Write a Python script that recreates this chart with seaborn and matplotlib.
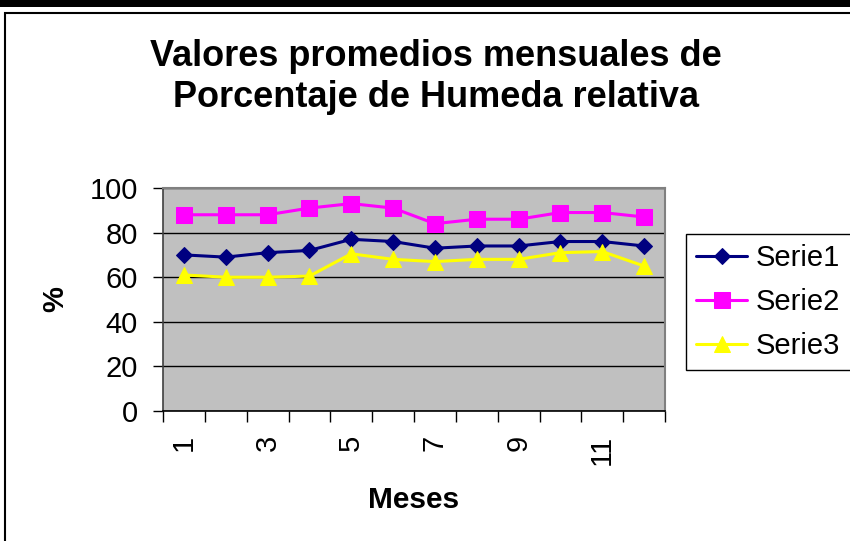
import pandas as pd
import matplotlib
matplotlib.use("Agg")
import matplotlib.pyplot as plt
import seaborn as sns
from matplotlib.patches import Rectangle

# Monthly relative humidity averages
meses = list(range(1, 13))
serie1 = [70, 69, 71, 72, 77, 76, 73, 74, 74, 76, 76, 74]
serie2 = [88, 88, 88, 91, 93, 91, 84, 86, 86, 89, 89, 87]
serie3 = [61, 60, 60, 60.5, 70.5, 68, 67, 68, 68, 71, 71.5, 65]
series_names = ["Serie1", "Serie2", "Serie3"]
tick_labels = ["1", "3", "5", "7", "9", "11"]

colors = {"Serie1": "#000080", "Serie2": "#FF00FF", "Serie3": "#FFFF00"}
markers = {"Serie1": "D", "Serie2": "s", "Serie3": "^"}
msizes = {"Serie1": 8, "Serie2": 11, "Serie3": 11}

df = pd.DataFrame({
    "mes": meses * 3,
    "valor": serie1 + serie2 + serie3,
    "serie": [s for s in series_names for _ in meses],
})
df["pos"] = df["mes"] - 1

sns.set_style("white")
plt.rcParams["font.family"] = ["Liberation Sans", "DejaVu Sans"]
plt.rcParams["text.color"] = "black"
plt.rcParams["axes.labelcolor"] = "black"
plt.rcParams["xtick.color"] = "black"
plt.rcParams["ytick.color"] = "black"

fig = plt.figure(figsize=(8.5, 5.41), dpi=100)
ax = fig.add_axes([163 / 850, 1 - 411 / 541, 502 / 850, 223 / 541])
ax.set_facecolor("#C0C0C0")

for name in series_names:
    sns.lineplot(data=df[df["serie"] == name], x="pos", y="valor", ax=ax,
                 color=colors[name], marker=markers[name], markersize=msizes[name],
                 markeredgecolor=colors[name], markerfacecolor=colors[name],
                 linewidth=2.2, label=name, zorder=3)

ax.set_xlim(-0.5, 11.5)
ax.set_ylim(0, 100)
ax.set_yticks([0, 20, 40, 60, 80, 100])
ax.yaxis.grid(True, color="black", linewidth=1)
ax.set_axisbelow(True)
ax.tick_params(axis="y", which="major", direction="out", length=7, width=1,
               labelsize=21, pad=11, left=True)

# category labels at centres, tick marks at the boundaries
ax.set_xticks([0, 2, 4, 6, 8, 10])
ax.set_xticklabels(tick_labels, rotation=90)
ax.set_xticks([i - 0.5 for i in range(13)], minor=True)
ax.tick_params(axis="x", which="major", length=0, labelsize=21, pad=17)
ax.tick_params(axis="x", which="minor", direction="out", length=8, width=1, bottom=True)

for side in ["top", "right"]:
    ax.spines[side].set_color("#808080")
    ax.spines[side].set_linewidth(1.5)
ax.spines["left"].set_color("#404040")
ax.spines["bottom"].set_color("black")
ax.spines["left"].set_linewidth(1.2)
ax.spines["bottom"].set_linewidth(1.2)

ax.set_xlabel("Meses", fontsize=21.5, fontweight="bold")
ax.xaxis.set_label_coords(0.5, (411 - 500) / 223)
ax.xaxis.label.set_va("center")
ax.set_ylabel("%", fontsize=21, fontweight="bold")
ax.yaxis.set_label_coords((55 - 163) / 502, 0.5)
ax.yaxis.label.set_va("center")

fig.text(436 / 850, 1 - 77 / 541,
         "Valores promedios mensuales de\nPorcentaje de Humeda relativa",
         ha="center", va="center", fontsize=26, fontweight="bold", linespacing=1.2)

leg = ax.legend(loc="upper left", bbox_to_anchor=(686 / 850, 1 - 234 / 541),
                bbox_transform=fig.transFigure, borderaxespad=0, fontsize=21,
                handlelength=1.75, labelspacing=0.55, handletextpad=0.3,
                borderpad=0.35, fancybox=False, framealpha=1)
leg.get_frame().set_edgecolor("black")
leg.get_frame().set_linewidth(1)

# chart frame like the spreadsheet export
fig.patches.append(Rectangle((0, 1 - 7 / 541), 1, 7 / 541, transform=fig.transFigure,
                             facecolor="black", edgecolor="none"))
fig.patches.append(Rectangle((5 / 850, -0.05), 1, 1 - 13 / 541 + 0.05,
                             transform=fig.transFigure, facecolor="none",
                             edgecolor="black", linewidth=1.5))

fig.savefig("out.png", dpi=100)
